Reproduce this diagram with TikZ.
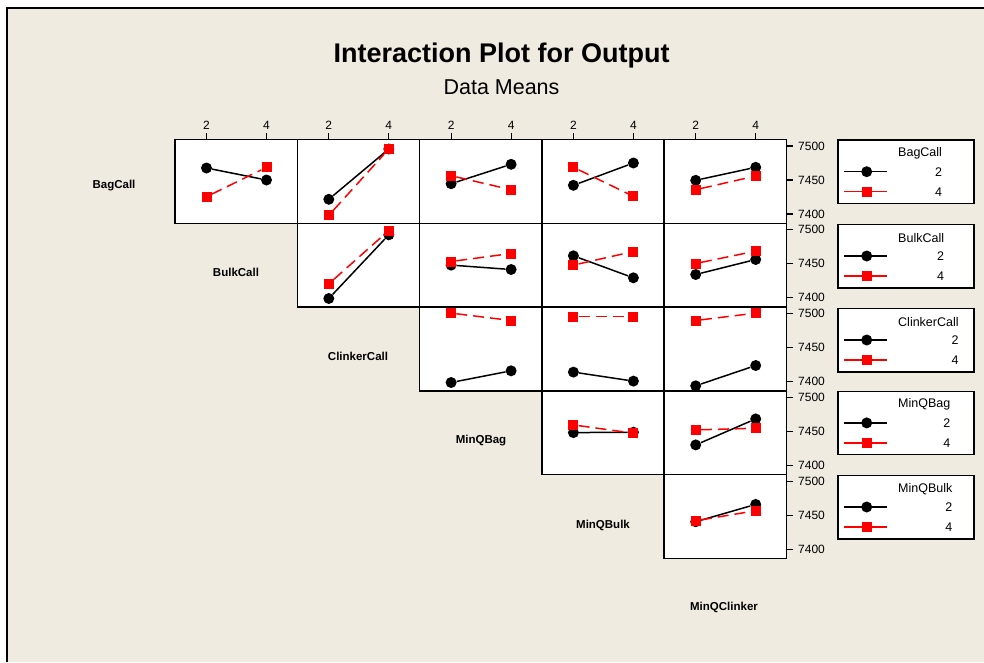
\documentclass[tikz,border=0pt]{standalone}
\usepackage{fontspec}
\setmainfont{Liberation Sans}
\definecolor{bg}{RGB}{239,235,224}
\tikzset{
 pbox/.style={draw=black, fill=white, line width=1.5pt},
 bdot/.style={circle, fill=black, inner sep=0pt, minimum size=11pt},
 rsq/.style={rectangle, fill=red, inner sep=0pt, minimum size=10pt},
 bline/.style={black, line width=1.5pt},
 rline/.style={red, line width=1.5pt, dash pattern=on 11pt off 6pt},
 rsolid/.style={red, line width=1.5pt},
 tickmark/.style={line width=1.2pt},
 ticklab/.style={font=\fontsize{12}{13}\selectfont, inner sep=0pt},
 diaglab/.style={font=\bfseries\fontsize{11.5}{13}\selectfont, inner sep=0pt},
 legbox/.style={draw=black, fill=white, line width=1.4pt},
 legtxt/.style={font=\fontsize{12.5}{14}\selectfont, inner sep=0pt},
}
% name, L, T, black@2, black@4, red@2, red@4 (offsets from panel top)
\newcommand\ipanel[7]{%
 \node[bdot] (#1b2) at ({#2+31.5},{#3+#4}) {};
 \node[bdot] (#1b4) at ({#2+91.5},{#3+#5}) {};
 \draw[bline] (#1b2) -- (#1b4);
 \node[rsq] (#1r2) at ({#2+31.5},{#3+#6}) {};
 \node[rsq] (#1r4) at ({#2+91.5},{#3+#7}) {};
 \draw[rline] (#1r2) -- (#1r4);
}
\newcommand\ilegend[3]{%
 \draw[legbox] (838,{#2+0.5}) rectangle (974,{#2+64});
 \node[legtxt, anchor=west] (#1t) at (898,{#2+14}) {#3};
 \coordinate (#1ba) at (844,{#2+32.2});
 \coordinate (#1bb) at (887,{#2+32.2});
 \draw[bline] (#1ba) -- (#1bb);
 \node[bdot] (#1bd) at (866.7,{#2+32.2}) {};
 \node[legtxt, anchor=east] (#1n2) at (#1t.east |- #1bd) {2};
 \coordinate (#1ra) at (844,{#2+52.2});
 \coordinate (#1rb) at (887,{#2+52.2});
 \draw[rsolid] (#1ra) -- (#1rb);
 \node[rsq] (#1rd) at (866.7,{#2+52.2}) {};
 \node[legtxt, anchor=east] (#1n4) at (#1t.east |- #1rd) {4};
}
\begin{document}
\begin{tikzpicture}[x=1pt,y=-1pt]
\useasboundingbox (0,0) rectangle (984,662);
\fill[white] (0,0) rectangle (984,662);
\fill[bg] (7,7.5) rectangle (984,662);
\draw[line width=2pt] (7,662) -- (7,7.5) -- (984,7.5);

\node[font=\bfseries\fontsize{27}{30}\selectfont, anchor=base, inner sep=0pt] (title) at (501.5,62) {Interaction Plot for Output};
\node[font=\fontsize{21.5}{24}\selectfont, anchor=base, inner sep=0pt] (subtitle) at (501.5,94) {Data Means};

% panel frames
\foreach \r in {1,...,5} {
  \foreach \c in {\r,...,5} {
    \pgfmathsetmacro\L{175+122.3*(\c-1)}
    \pgfmathsetmacro\T{139.5+83.8*(\r-1)}
    \draw[pbox] (\L,\T) rectangle ({\L+122.3},{\T+83.8});
  }
}

% top axis ticks
\foreach \c in {0,...,4} {
  \pgfmathsetmacro\L{175+122.3*\c}
  \draw[tickmark] ({\L+31.5},133) -- ({\L+31.5},139.5);
  \draw[tickmark] ({\L+91.5},133) -- ({\L+91.5},139.5);
  \node[ticklab] (xa\c) at ({\L+31.5},125) {2};
  \node[ticklab] (xb\c) at ({\L+91.5},125) {4};
}
% right axis ticks
\foreach \r in {0,...,4} {
  \pgfmathsetmacro\T{139.5+83.8*\r}
  \foreach \o/\v in {6.5/7500,40.5/7450,74.5/7400} {
    \draw[tickmark] (786.5,{\T+\o}) -- (793,{\T+\o});
    \node[ticklab, anchor=west] (y\r\v) at (798,{\T+\o}) {\v};
  }
}

% data
\ipanel{p11}{175}{139.5}{28.5}{40.5}{57.2}{27.8}
\ipanel{p12}{297.3}{139.5}{59.8}{9.5}{75.8}{9.5}
\ipanel{p13}{419.6}{139.5}{44.2}{24.8}{36.2}{50.2}
\ipanel{p14}{541.9}{139.5}{45.8}{23.5}{27.8}{56.8}
\ipanel{p15}{664.2}{139.5}{40.8}{27.8}{50.2}{36.5}
\ipanel{p22}{297.3}{223.3}{75.2}{11.5}{60.5}{7.2}
\ipanel{p23}{419.6}{223.3}{41.8}{46.2}{38.2}{30.2}
\ipanel{p24}{541.9}{223.3}{32.5}{54.5}{41.8}{28.2}
\ipanel{p25}{664.2}{223.3}{51.2}{36.2}{40.2}{27.8}
\ipanel{p33}{419.6}{307.1}{75.4}{63.7}{6}{13.4}
\ipanel{p34}{541.9}{307.1}{65}{74}{9.4}{9.4}
\ipanel{p35}{664.2}{307.1}{78.7}{58.4}{13.4}{6}
\ipanel{p44}{541.9}{390.9}{41.7}{41.3}{34}{42.3}
\ipanel{p45}{664.2}{390.9}{54}{28}{39}{37.3}
\ipanel{p55}{664.2}{474.7}{47}{29.7}{46}{36}

% diagonal labels
\node[diaglab] (d1) at (114,186) {BagCall};
\node[diaglab] (d2) at (236,272) {BulkCall};
\node[diaglab] (d3) at (358,356) {ClinkerCall};
\node[diaglab] (d4) at (481,441) {MinQBag};
\node[diaglab] (d5) at (603,525.5) {MinQBulk};
\node[diaglab] (d6) at (724,607) {MinQClinker};

% legends
\ilegend{lg1}{139.5}{BagCall}
\ilegend{lg2}{223.8}{BulkCall}
\ilegend{lg3}{307.8}{ClinkerCall}
\ilegend{lg4}{390.7}{MinQBag}
\ilegend{lg5}{474.8}{MinQBulk}
\end{tikzpicture}
\end{document}
